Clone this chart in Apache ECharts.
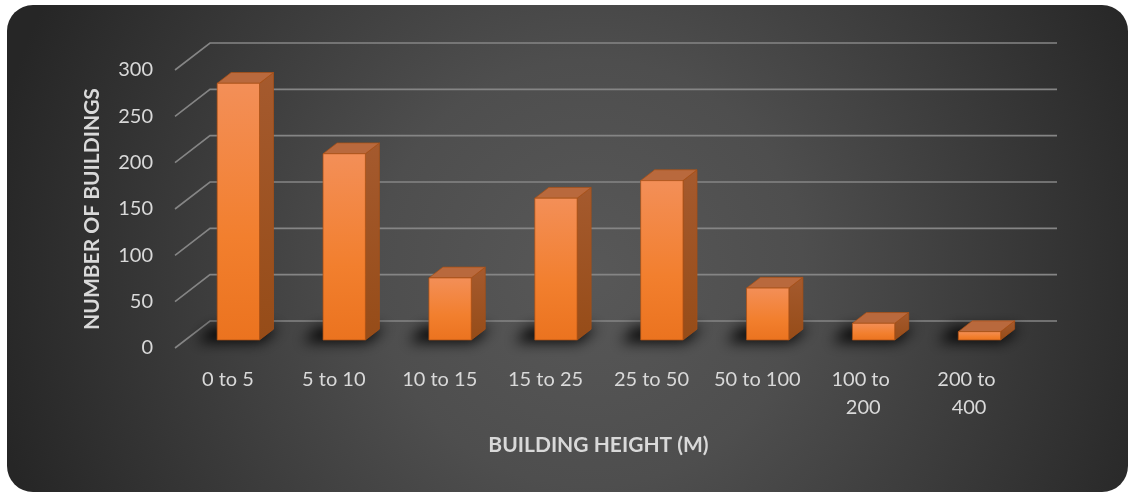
<!DOCTYPE html>
<html>
<head>
<meta charset="utf-8">
<script src="https://cdn.jsdelivr.net/npm/echarts@6/dist/echarts.min.js"></script>
<style>
  html, body { margin: 0; padding: 0; background: #ffffff; }
  #chart { width: 1129px; height: 493px; }
</style>
</head>
<body>
<div id="chart"></div>
<script>
// Number of buildings per height band (metres)
const categories = ['0 to 5', '5 to 10', '10 to 15', '15 to 25', '25 to 50', '50 to 100', '100 to 200', '200 to 400'];
const buildingCounts = [277, 201, 67, 153, 172, 56, 18, 9];
const yTicks = [0, 50, 100, 150, 200, 250, 300];

// Pseudo-3D geometry: back wall offset, bar plane offset, bar depth
const WALL_DX = 35, WALL_DY = -27;
const PLANE_DX = 10.4, PLANE_DY = -8;
const DEPTH_DX = 14, DEPTH_DY = -10.8;
// the shadow shape is drawn far above and only its blurred shadow is cast back down
const SHADOW_LIFT = 2000;

const textColor = '#d9d9d9';
const fontFamily = 'Lato, "Open Sans", sans-serif';

const chart = echarts.init(document.getElementById('chart'));

function renderWallLine(params, api) {
  const y = api.coord([0, api.value(1)])[1];
  const cs = params.coordSys;
  const x0 = cs.x, x1 = cs.x + cs.width;
  return {
    type: 'polyline',
    shape: { points: [[x0, y], [x0 + WALL_DX, y + WALL_DY], [x1 + WALL_DX, y + WALL_DY]] },
    style: { stroke: '#858585', lineWidth: 1.6, fill: null },
    silent: true
  };
}

function renderBar(params, api) {
  const idx = api.value(0);
  const top = api.coord([idx, api.value(1)]);
  const base = api.coord([idx, 0]);
  const band = api.size([1, 0])[0];
  const w = band * 0.4;
  const L = top[0] - w / 2 + PLANE_DX;
  const R = L + w;
  const yT = top[1] + PLANE_DY;
  const yB = base[1] + PLANE_DY;
  const edge = 'rgba(170,80,20,0.9)';
  const s = SHADOW_LIFT;
  return {
    type: 'group',
    children: [
      {
        // soft floor shadow
        type: 'polygon',
        shape: { points: [[L - 20, yB + 2 - s], [R + 2, yB + 2 - s], [R + DEPTH_DX + 6, yB + DEPTH_DY - 2 - s], [L - 20 + DEPTH_DX, yB + DEPTH_DY - 2 - s]] },
        style: { fill: '#000', shadowBlur: 14, shadowColor: 'rgba(0,0,0,0.95)', shadowOffsetX: 0, shadowOffsetY: s },
        silent: true
      },
      {
        // side face
        type: 'polygon',
        shape: { points: [[R, yT], [R + DEPTH_DX, yT + DEPTH_DY], [R + DEPTH_DX, yB + DEPTH_DY], [R, yB]] },
        style: {
          fill: new echarts.graphic.LinearGradient(0, 0, 0, 1, [
            { offset: 0, color: '#a55a2e' },
            { offset: 1, color: '#964c18' }
          ]),
          stroke: edge, lineWidth: 0.8
        }
      },
      {
        // top face
        type: 'polygon',
        shape: { points: [[L, yT], [L + DEPTH_DX, yT + DEPTH_DY], [R + DEPTH_DX, yT + DEPTH_DY], [R, yT]] },
        style: { fill: '#b9693d', stroke: edge, lineWidth: 0.8 }
      },
      {
        // front face
        type: 'rect',
        shape: { x: L, y: yT, width: w, height: yB - yT },
        style: {
          fill: new echarts.graphic.LinearGradient(0, 0, 0, 1, [
            { offset: 0, color: '#f38f58' },
            { offset: 0.6, color: '#f27f2e' },
            { offset: 1, color: '#eb731f' }
          ]),
          stroke: edge, lineWidth: 0.8
        }
      }
    ]
  };
}

chart.setOption({
  animation: false,
  graphic: [{
    type: 'rect',
    z: -100,
    silent: true,
    shape: { x: 7, y: 5, width: 1121, height: 487, r: 26 },
    style: {
      fill: new echarts.graphic.RadialGradient(0.52, 0.55, 1.25, [
        { offset: 0, color: '#585858' },
        { offset: 0.35, color: '#4e4e4e' },
        { offset: 1, color: '#262626' }
      ])
    }
  }],
  grid: { left: 175, right: 107, top: 70, bottom: 145 },
  xAxis: {
    type: 'category',
    data: categories,
    axisLine: { show: false },
    axisTick: { show: false },
    axisLabel: {
      interval: 0, color: textColor, fontSize: 20, fontFamily,
      margin: 18, lineHeight: 28, width: 90, overflow: 'break'
    },
    name: 'BUILDING HEIGHT (M)',
    nameLocation: 'middle',
    nameGap: 87,
    nameTextStyle: { color: textColor, fontSize: 21, fontWeight: 'bold', fontFamily }
  },
  yAxis: {
    type: 'value',
    min: 0, max: 300, interval: 50,
    axisLine: { show: false },
    axisTick: { show: false },
    splitLine: { show: false },
    axisLabel: { color: textColor, fontSize: 20, fontFamily, margin: 22 },
    name: 'NUMBER OF BUILDINGS',
    nameLocation: 'middle',
    nameGap: 72,
    nameTextStyle: { color: textColor, fontSize: 21, fontWeight: 'bold', fontFamily }
  },
  series: [
    {
      type: 'custom',
      name: 'wall',
      z: 1,
      silent: true,
      renderItem: renderWallLine,
      data: yTicks.map(v => [0, v])
    },
    {
      type: 'custom',
      name: 'Buildings',
      z: 3,
      renderItem: renderBar,
      encode: { x: 0, y: 1 },
      data: buildingCounts.map((v, i) => [i, v])
    }
  ]
});
</script>
</body>
</html>
